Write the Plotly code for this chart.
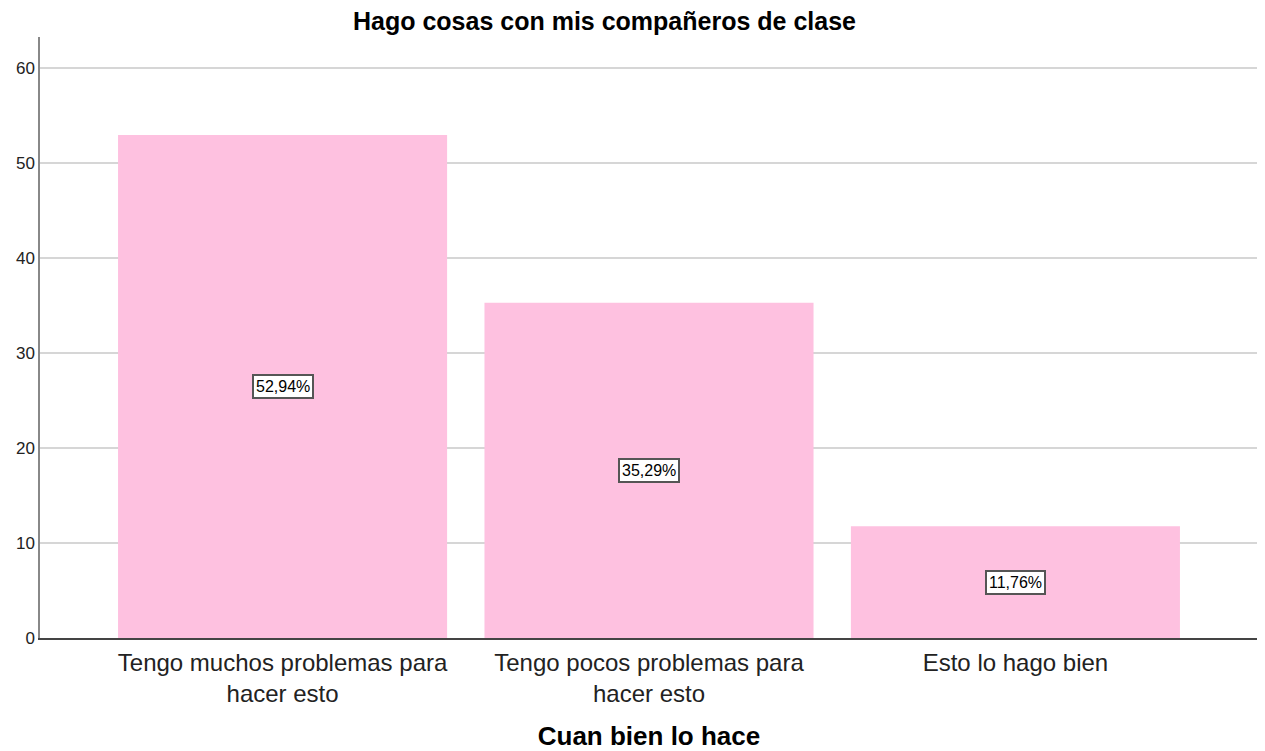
import plotly.graph_objects as go

categories = ["Tengo muchos problemas para<br>hacer esto", "Tengo pocos problemas para<br>hacer esto", "Esto lo hago bien"]
values = [52.94, 35.29, 11.76]
labels = ["52,94%", "35,29%", "11,76%"]
y_ticks = [0, 10, 20, 30, 40, 50, 60]

FONT = "Liberation Sans, Arial"
W, H = 1257, 743  # page body has an 8px margin

fig = go.Figure()
fig.add_trace(go.Bar(
    x=list(range(len(categories))), y=values,
    width=0.898,
    marker=dict(color="#FEC1E0", line=dict(width=0)),
    hoverinfo="skip",
))

for i, (v, lab) in enumerate(zip(values, labels)):
    fig.add_annotation(
        x=i, y=v / 2, text=lab, showarrow=False,
        font=dict(family=FONT, size=16, color="black"),
        bgcolor="white", bordercolor="#555555", borderwidth=2, borderpad=2,
    )

fig.update_layout(
    width=W, height=H,
    margin=dict(l=32, r=7, t=29, b=113),
    paper_bgcolor="white", plot_bgcolor="white",
    showlegend=False,
    title=dict(text="<b>Hago cosas con mis compañeros de clase</b>",
               xref="container", x=(604.5 - 8) / W, xanchor="center",
               yref="container", y=1.0, yanchor="top",
               pad=dict(t=4),
               font=dict(family=FONT, size=25, color="black")),
    font=dict(family=FONT, color="black"),
)
fig.update_xaxes(
    tickmode="array", tickvals=list(range(len(categories))), ticktext=categories,
    range=[-0.662, 2.662],
    showline=True, linecolor="#444444", linewidth=1.5,
    showgrid=False, ticks="outside", ticklen=2, tickcolor="rgba(0,0,0,0)",
    automargin=False,
    tickfont=dict(family=FONT, size=24, color="#222222"),
    title=dict(text="<b>Cuan bien lo hace</b>", standoff=25,
               font=dict(family=FONT, size=26, color="black")),
)
fig.update_yaxes(
    range=[0, 63.26], tickvals=y_ticks,
    showline=True, linecolor="#888888", linewidth=1.5,
    showgrid=True, gridcolor="#D6D6D6", gridwidth=2,
    zeroline=False, ticks="", automargin=False,
    tickfont=dict(family=FONT, size=17, color="#222222"),
)

fig.write_html("out.html")
